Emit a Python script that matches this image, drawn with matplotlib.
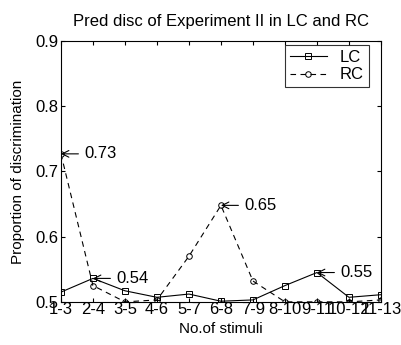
import matplotlib
matplotlib.use("Agg")
import matplotlib.pyplot as plt

categories = ["1-3", "2-4", "3-5", "4-6", "5-7", "6-8", "7-9", "8-10", "9-11", "10-12", "11-13"]
lc = [0.515, 0.536, 0.517, 0.507, 0.512, 0.501, 0.503, 0.525, 0.545, 0.507, 0.511]
rc = [0.727, 0.525, 0.500, 0.503, 0.570, 0.648, 0.532, 0.500, 0.500, 0.500, 0.503]
annotations = [(0, 0.727, "0.73"), (1, 0.536, "0.54"), (5, 0.648, "0.65"), (8, 0.545, "0.55")]

plt.rcParams['font.family'] = ['Liberation Sans', 'DejaVu Sans']
fig = plt.figure(figsize=(4.01, 3.45), dpi=100)
ax = fig.add_axes([0.152, 0.125, 0.798, 0.756])
x = list(range(len(categories)))
ax.plot(x, lc, '-', color='black', lw=0.8, marker='s', ms=5, mfc='none', mew=0.7, label='LC')
ax.plot(x, rc, '--', color='black', lw=0.8, marker='o', ms=4, mfc='none', mew=0.7, label='RC', dashes=(5, 4))
for xi, yi, t in annotations:
    ax.annotate(t, xy=(xi, yi), xytext=(23, 0), textcoords='offset pixels', fontsize=12,
                va='center', ha='left',
                arrowprops=dict(arrowstyle='->', color='black', lw=0.8, shrinkA=2, shrinkB=0))
ax.set_xlim(0, len(categories) - 1)
ax.set_ylim(0.5, 0.9)
ax.set_xticks(x)
ax.set_xticklabels(categories, fontsize=12)
ax.set_yticks([0.5, 0.6, 0.7, 0.8, 0.9])
ax.set_yticklabels(["0.5", "0.6", "0.7", "0.8", "0.9"], fontsize=12)
ax.tick_params(direction='in', top=True, right=True, length=3, pad=2)
ax.tick_params(axis='x', pad=0)
ax.set_xlabel("No.of stimuli", fontsize=11, labelpad=4)
ax.set_ylabel("Proportion of discrimination", fontsize=11, labelpad=7)
ax.set_title("Pred disc of Experiment II in LC and RC", fontsize=12, pad=11)
leg = ax.legend(loc='upper right', bbox_to_anchor=(0.9625, 0.985), fontsize=12, frameon=True,
                fancybox=False, edgecolor='black', borderaxespad=0, handlelength=2.2,
                labelspacing=0.15, borderpad=0.3, handletextpad=0.8)
leg.get_frame().set_linewidth(0.8)
fig.savefig("out.png", dpi=100)
